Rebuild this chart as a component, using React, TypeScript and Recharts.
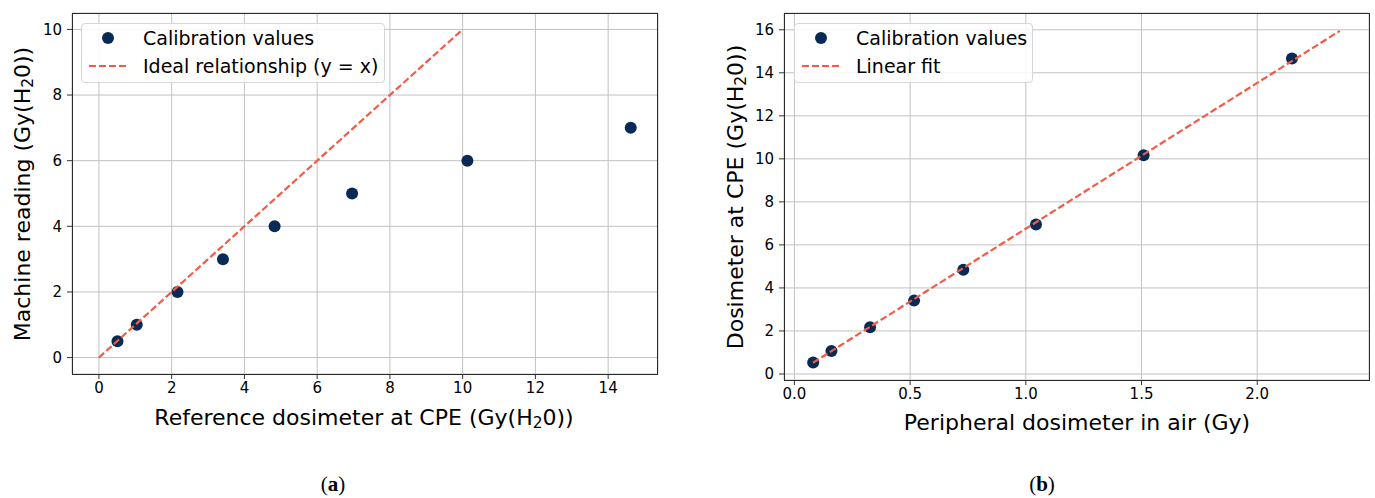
import { ScatterChart, Scatter, XAxis, YAxis, CartesianGrid } from "recharts";

// panel (a): machine reading vs reference dosimeter
const refDose = [0.51, 1.04, 2.16, 3.41, 4.83, 6.96, 10.13, 14.62];
const machineReading = [0.5, 1, 2, 3, 4, 5, 6, 7];
const idealX = [0, 10];
const idealY = [0, 10];
const ticksAX = [0, 2, 4, 6, 8, 10, 12, 14];
const ticksAY = [0, 2, 4, 6, 8, 10];

// panel (b): CPE dose vs peripheral dosimeter in air
const airDose = [0.081, 0.16, 0.327, 0.517, 0.73, 1.044, 1.509, 2.15];
const cpeDose = [0.53, 1.07, 2.17, 3.41, 4.85, 6.95, 10.17, 14.67];
const fitX = [0.08, 2.357];
const fitY = [0.52, 15.95];
const ticksBX = [0, 0.5, 1, 1.5, 2];
const ticksBY = [0, 2, 4, 6, 8, 10, 12, 14, 16];

const NAVY = "#0a2a56";
const RED = "#f25b45";
const FONT = "'DejaVu Sans', sans-serif";

const zip = (xs: number[], ys: number[]) => xs.map((x, i) => ({ x, y: ys[i] }));

const Dot = (p: any) => <circle cx={p.cx} cy={p.cy} r={6} fill={NAVY} />;
const NoDot = () => <g />;

type PanelProps = {
  left: number;
  width: number;
  height: number;
  margin: { top: number; right: number; bottom: number; left: number };
  xDomain: [number, number];
  yDomain: [number, number];
  xTicks: number[];
  yTicks: number[];
  points: { x: number; y: number }[];
  line: { x: number; y: number }[];
  xFormat?: (v: number) => string;
};

function Panel(p: PanelProps) {
  const tick = { fontSize: 15, fill: "#000", fontFamily: FONT };
  return (
    <div style={{ position: "absolute", left: p.left, top: 0 }}>
      <ScatterChart width={p.width} height={p.height} margin={p.margin}>
        <CartesianGrid stroke="#c2c2c2" strokeWidth={1} />
        <XAxis
          type="number"
          dataKey="x"
          domain={p.xDomain}
          ticks={p.xTicks}
          interval={0}
          allowDataOverflow
          axisLine={false}
          tickLine={{ stroke: "#333" }}
          tickSize={5}
          tickMargin={3}
          tick={tick}
          tickFormatter={p.xFormat}
          height={26}
        />
        <YAxis
          type="number"
          dataKey="y"
          domain={p.yDomain}
          ticks={p.yTicks}
          interval={0}
          allowDataOverflow
          axisLine={false}
          tickLine={{ stroke: "#333" }}
          tickSize={5}
          tickMargin={5}
          tick={tick}
          width={40}
        />
        <Scatter data={p.points} shape={Dot} isAnimationActive={false} />
        <Scatter
          data={p.line}
          shape={NoDot}
          line={{ stroke: RED, strokeWidth: 2.2, strokeDasharray: "7 3" }}
          isAnimationActive={false}
        />
      </ScatterChart>
    </div>
  );
}

const H2O = (
  <>
    Gy(H<sub style={{ fontSize: "0.7em", verticalAlign: "-0.25em", lineHeight: 0 }}>2</sub>0)
  </>
);

function Frame({ x1, x2, y1, y2 }: { x1: number; x2: number; y1: number; y2: number }) {
  return (
    <div
      style={{
        position: "absolute",
        left: x1,
        top: y1,
        width: x2 - x1,
        height: y2 - y1,
        border: "1.3px solid #2a2a2a",
        boxSizing: "border-box",
        pointerEvents: "none",
      }}
    />
  );
}

function LegendBox({
  x,
  width,
  items,
}: {
  x: number;
  width: number;
  items: { label: string; kind: "dot" | "dash" }[];
}) {
  return (
    <div
      style={{
        position: "absolute",
        left: x,
        top: 23,
        width,
        height: 60,
        boxSizing: "border-box",
        border: "1px solid #d6d6d6",
        borderRadius: 4,
        background: "rgba(255,255,255,0.85)",
        fontFamily: FONT,
        fontSize: 19,
        color: "#000",
      }}
    >
      {items.map((it, i) => (
        <div
          key={it.label}
          style={{ position: "absolute", left: 0, top: 2 + i * 28, height: 24, display: "flex", alignItems: "center" }}
        >
          <svg width={61} height={24} style={{ display: "block" }}>
            {it.kind === "dot" ? (
              <circle cx={26} cy={12} r={6} fill={NAVY} />
            ) : (
              <line x1={7} x2={46} y1={12} y2={12} stroke={RED} strokeWidth={2.2} strokeDasharray="7 3" />
            )}
          </svg>
          <span style={{ whiteSpace: "nowrap" }}>{it.label}</span>
        </div>
      ))}
    </div>
  );
}

const textStyle = { position: "absolute" as const, fontFamily: FONT, fontSize: 22, color: "#000", whiteSpace: "nowrap" as const };

export default function App() {
  const pointsA = zip(refDose, machineReading);
  const lineA = zip(idealX, idealY);
  const pointsB = zip(airDose, cpeDose);
  const lineB = zip(fitX, fitY);

  return (
    <div style={{ position: "absolute", left: 0, top: 0, width: 1375, height: 498, background: "#fff", overflow: "hidden" }}>
      <Panel
        left={0}
        width={680}
        height={400}
        margin={{ top: 13, right: 22, bottom: 0, left: 32 }}
        xDomain={[-0.74, 15.37]}
        yDomain={[-0.5, 10.5]}
        xTicks={ticksAX}
        yTicks={ticksAY}
        points={pointsA}
        line={lineA}
      />
      <Frame x1={72} x2={658} y1={13} y2={375} />
      <LegendBox
        x={81}
        width={304}
        items={[
          { label: "Calibration values", kind: "dot" },
          { label: "Ideal relationship (y = x)", kind: "dash" },
        ]}
      />
      <div style={{ ...textStyle, left: 364, top: 417, transform: "translate(-50%, -50%)" }}>
        Reference dosimeter at CPE ({H2O})
      </div>
      <div style={{ ...textStyle, left: 22, top: 194, transform: "translate(-50%, -50%) rotate(-90deg)" }}>
        Machine reading ({H2O})
      </div>

      <Panel
        left={690}
        width={685}
        height={406}
        margin={{ top: 13, right: 6, bottom: 0, left: 54 }}
        xDomain={[-0.045, 2.483]}
        yDomain={[-0.28, 16.78]}
        xTicks={ticksBX}
        yTicks={ticksBY}
        points={pointsB}
        line={lineB}
        xFormat={(v) => v.toFixed(1)}
      />
      <Frame x1={784} x2={1370} y1={13} y2={381} />
      <LegendBox
        x={794}
        width={239}
        items={[
          { label: "Calibration values", kind: "dot" },
          { label: "Linear fit", kind: "dash" },
        ]}
      />
      <div style={{ ...textStyle, left: 1077, top: 422, transform: "translate(-50%, -50%)" }}>
        Peripheral dosimeter in air (Gy)
      </div>
      <div style={{ ...textStyle, left: 735, top: 197, transform: "translate(-50%, -50%) rotate(-90deg)" }}>
        Dosimeter at CPE ({H2O})
      </div>

      <div style={{ position: "absolute", left: 333, top: 484, transform: "translate(-50%, -50%)", fontFamily: "'Liberation Serif', serif", fontSize: 21, color: "#000" }}>
        (<b>a</b>)
      </div>
      <div style={{ position: "absolute", left: 1042, top: 484, transform: "translate(-50%, -50%)", fontFamily: "'Liberation Serif', serif", fontSize: 21, color: "#000" }}>
        (<b>b</b>)
      </div>
    </div>
  );
}
